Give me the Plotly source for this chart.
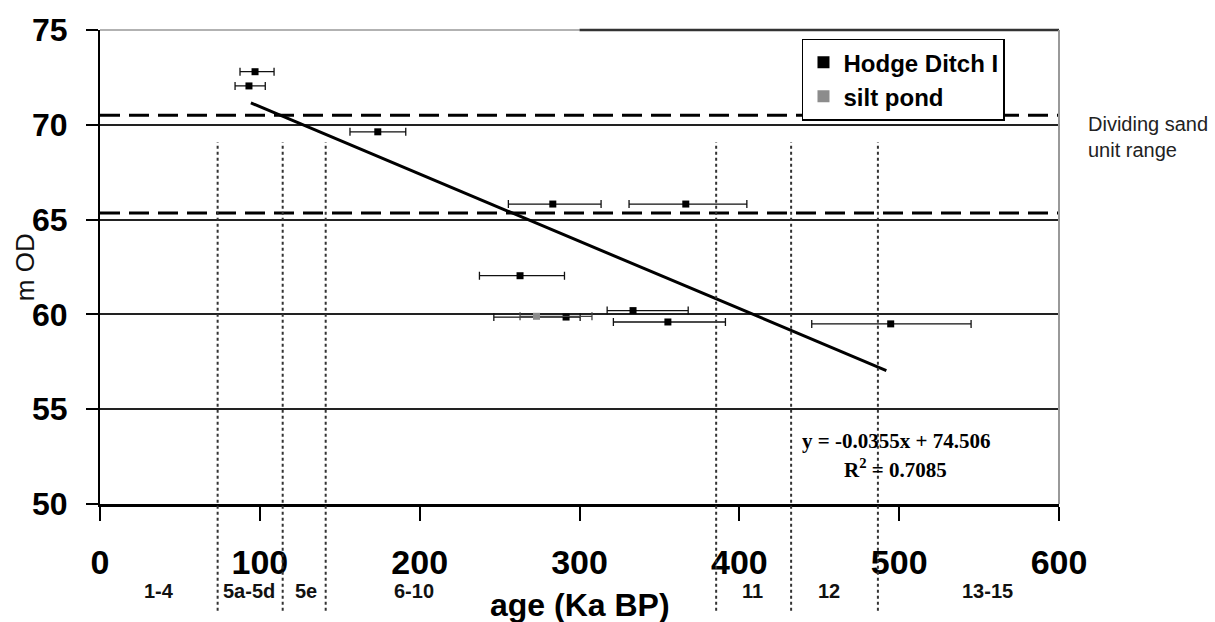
import plotly.graph_objects as go

# ---- data ----
hodge_age = [97.0, 93.2, 173.8, 283.3, 366.5, 262.8, 291.6, 333.5, 355.3, 494.7]
hodge_od = [72.8, 72.05, 69.63, 65.82, 65.82, 62.04, 59.86, 60.2, 59.6, 59.5]
hodge_lo = [87.6, 84.5, 156.4, 255.5, 331.0, 237.4, 246.4, 317.3, 321.2, 445.3]
hodge_hi = [108.9, 103.4, 191.3, 313.5, 404.7, 290.6, 300.4, 368.0, 391.3, 545.0]

silt_age = [273.1]
silt_od = [59.9]
silt_lo = [262.8]
silt_hi = [307.8]

trend_slope = -0.0355
trend_intercept = 74.506
trend_x = [94.4, 492.0]

sand_range = [70.5, 65.35]
mis_bounds = [73.6, 114.3, 141.2, 385.5, 432.4, 486.7]
mis_labels = ["1-4", "5a-5d", "5e", "6-10", "11", "12", "13-15"]
mis_label_x = [37, 93.3, 128.7, 196.5, 408.5, 456, 555]

x_ticks = [0, 100, 200, 300, 400, 500, 600]
y_ticks = [50, 55, 60, 65, 70, 75]

# ---- figure ----
fig = go.Figure()

trend_y = [trend_slope * x + trend_intercept for x in trend_x]
fig.add_trace(go.Scatter(x=trend_x, y=trend_y, mode="lines",
                         line=dict(color="black", width=3), showlegend=False,
                         hoverinfo="skip"))

fig.add_trace(go.Scatter(
    x=hodge_age, y=hodge_od, mode="markers", name="Hodge Ditch I",
    marker=dict(symbol="square", size=7, color="black"),
    error_x=dict(type="data", symmetric=False,
                 array=[h - a for h, a in zip(hodge_hi, hodge_age)],
                 arrayminus=[a - l for a, l in zip(hodge_age, hodge_lo)],
                 color="#111", thickness=1.3, width=4)))

fig.add_trace(go.Scatter(
    x=silt_age, y=silt_od, mode="markers", name="silt pond",
    marker=dict(symbol="square", size=7, color="#8c8c8c"),
    error_x=dict(type="data", symmetric=False,
                 array=[h - a for h, a in zip(silt_hi, silt_age)],
                 arrayminus=[a - l for a, l in zip(silt_age, silt_lo)],
                 color="#444", thickness=1.3, width=4)))

shapes = []
for yv in sand_range:
    shapes.append(dict(type="line", xref="x", yref="y", x0=0, x1=600, y0=yv, y1=yv,
                       line=dict(color="black", width=3, dash="20px,9px"), layer="above"))
for xv in mis_bounds:
    shapes.append(dict(type="line", xref="x", yref="paper", x0=xv, x1=xv,
                       y0=-0.225, y1=0.763,
                       line=dict(color="#333", width=2, dash="dot"), layer="above"))
# top border and right border
shapes.append(dict(type="line", xref="x", yref="paper", x0=0, x1=300, y0=1, y1=1,
                   line=dict(color="#999", width=1.5)))
shapes.append(dict(type="line", xref="x", yref="paper", x0=300, x1=600, y0=1, y1=1,
                   line=dict(color="#333", width=2.5)))
shapes.append(dict(type="line", xref="paper", yref="paper", x0=1, x1=1, y0=0, y1=1,
                   line=dict(color="#999", width=2)))

annotations = []
for lab, xv in zip(mis_labels, mis_label_x):
    annotations.append(dict(x=xv, y=-0.183, xref="x", yref="paper", text=lab,
                            showarrow=False, xanchor="center", yanchor="middle",
                            font=dict(family="Liberation Sans", size=20, color="#111",
                                      weight="bold")))
annotations.append(dict(x=654, y=-0.183, xref="x", yref="paper", text="MIS",
                        showarrow=False, xanchor="center", yanchor="middle",
                        font=dict(family="Liberation Sans", size=22, color="#333")))
annotations.append(dict(x=1.028, y=0.775, xref="paper", yref="paper",
                        text="Dividing sand<br>unit range", align="left",
                        showarrow=False, xanchor="left", yanchor="middle",
                        font=dict(family="Liberation Sans", size=20, color="#222")))
annotations.append(dict(x=0.5, y=-0.213, xref="paper", yref="paper",
                        text="age (Ka BP)", showarrow=False,
                        xanchor="center", yanchor="middle",
                        font=dict(family="Liberation Sans", size=32, color="black",
                                  weight="bold")))
annotations.append(dict(x=-0.078, y=0.5, xref="paper", yref="paper",
                        text="m OD", textangle=-90, showarrow=False,
                        xanchor="center", yanchor="middle",
                        font=dict(family="Liberation Sans", size=26, color="#111")))
annotations.append(dict(x=498, y=53.33, xref="x", yref="y",
                        text="y = -0.0355x + 74.506", showarrow=False,
                        xanchor="center", yanchor="middle",
                        font=dict(family="Liberation Serif", size=21, color="black",
                                  weight="bold")))
annotations.append(dict(x=497.5, y=51.86, xref="x", yref="y",
                        text="R<sup>2</sup> = 0.7085", showarrow=False,
                        xanchor="center", yanchor="middle",
                        font=dict(family="Liberation Serif", size=21, color="black",
                                  weight="bold")))

fig.update_layout(
    width=1215, height=622,
    margin=dict(l=100, r=156, t=27, b=118),
    paper_bgcolor="white", plot_bgcolor="white",
    shapes=shapes, annotations=annotations,
    legend=dict(x=0.732, y=0.982, xanchor="left", yanchor="top",
                bgcolor="white", bordercolor="black", borderwidth=1.5,
                font=dict(family="Liberation Sans", size=24, color="black",
                          weight="bold"),
                itemsizing="constant", tracegroupgap=0),
    xaxis=dict(range=[0, 600], tickmode="array", tickvals=x_ticks,
               ticks="outside", ticklen=14, tickwidth=1.5, tickcolor="black",
               showline=True, linecolor="black", linewidth=2.5,
               showgrid=False, zeroline=False, ticklabelstandoff=12,
               tickfont=dict(family="Liberation Sans", size=34, color="black",
                             weight="bold")),
    yaxis=dict(range=[50, 75], tickmode="array", tickvals=y_ticks,
               ticks="outside", ticklen=12, tickwidth=1.5, tickcolor="black",
               showline=True, linecolor="black", linewidth=2,
               showgrid=True, gridcolor="#222", gridwidth=1.5,
               zeroline=False, ticklabelstandoff=12,
               tickfont=dict(family="Liberation Sans", size=32, color="black",
                             weight="bold")),
)

fig.write_html("out.html")
